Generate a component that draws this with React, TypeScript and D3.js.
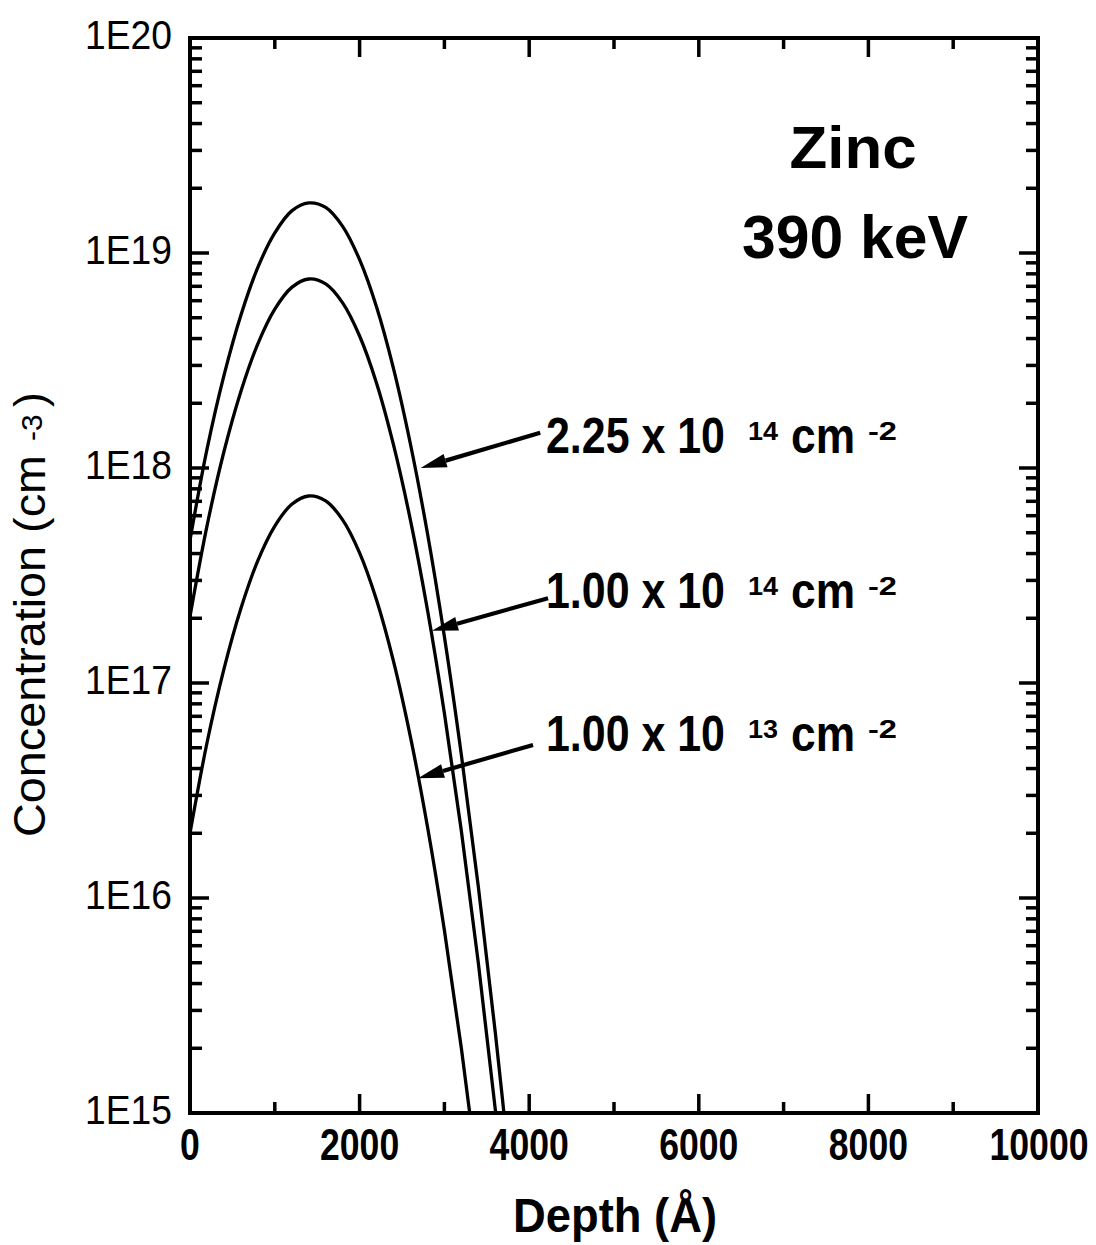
import React from "react";
import * as d3 from "d3";

const depths = [0, 200, 400, 600, 800, 1000, 1200, 1400, 1600, 1800, 2000, 2200, 2400, 2600, 2800, 3000, 3200, 3400, 3600, 3800];
const dose225e14 = [4.62e17, 1.22e18, 2.69e18, 5.14e18, 8.57e18, 1.24e19, 1.57e19, 1.71e19, 1.63e19, 1.33e19, 9.31e18, 5.61e18, 2.9e18, 1.29e18, 4.97e17, 1.64e17, 4.63e16, 1.13e16, 2.37e15, 4.26e14];
const dose100e14 = [2.04e17, 5.37e17, 1.19e18, 2.27e18, 3.78e18, 5.48e18, 6.92e18, 7.57e18, 7.18e18, 5.86e18, 4.11e18, 2.48e18, 1.28e18, 5.71e17, 2.19e17, 7.23e16, 2.05e16, 4.99e15, 1.04e15, 1.88e14];
const dose100e13 = [2.0e16, 5.26e16, 1.16e17, 2.22e17, 3.71e17, 5.37e17, 6.78e17, 7.41e17, 7.03e17, 5.74e17, 4.03e17, 2.43e17, 1.26e17, 5.6e16, 2.15e16, 7.08e15, 2.0e15, 4.89e14, 1.02e14, 1.84e13];

const xTickValues = [0, 2000, 4000, 6000, 8000, 10000];
const xMinorValues = [1000, 3000, 5000, 7000, 9000];
const yDecades = [1e15, 1e16, 1e17, 1e18, 1e19, 1e20];
const yTickLabels = ["1E15", "1E16", "1E17", "1E18", "1E19", "1E20"];

const doseLabels = [
  { main: "2.25 x 10", exp: "14", tailDepth: 4130, tailConc: 1.46e18, tipDepth: 2720, tipConc: 1.0e18 },
  { main: "1.00 x 10", exp: "14", tailDepth: 4222, tailConc: 2.48e17, tipDepth: 2854, tipConc: 1.75e17 },
  { main: "1.00 x 10", exp: "13", tailDepth: 4045, tailConc: 5.15e16, tipDepth: 2689, tipConc: 3.61e16 },
];

const W = 1096;
const H = 1245;
const L = 190, R = 1038, T = 38, B = 1113;
const FONT = "'Liberation Sans', Arial, Helvetica, sans-serif";

export default function App() {
  const x = d3.scaleLinear().domain([0, 10000]).range([L, R]);
  const y = d3.scaleLog().domain([1e15, 1e20]).range([B, T]);
  const line = d3
    .line<[number, number]>()
    .x((d) => x(d[0]))
    .y((d) => y(d[1]))
    .curve(d3.curveCatmullRom.alpha(0.5));

  const series = [dose225e14, dose100e14, dose100e13];

  const yMinor: number[] = [];
  for (let e = 15; e < 20; e++) {
    for (let m = 2; m <= 9; m++) yMinor.push(m * Math.pow(10, e));
  }

  const labelBaselines = [453, 608, 751];

  return (
    <svg
      width={W}
      height={H}
      style={{ position: "absolute", left: 0, top: 0, display: "block", background: "#fff" }}
      fontFamily={FONT}
    >
      <defs>
        <clipPath id="plotClip">
          <rect x={L} y={T} width={R - L} height={B - T} />
        </clipPath>
      </defs>
      <rect x={0} y={0} width={W} height={H} fill="#fff" />

      <g clipPath="url(#plotClip)">
        {series.map((s, i) => (
          <path
            key={i}
            d={line(depths.map((d, j) => [d, s[j]] as [number, number])) || ""}
            fill="none"
            stroke="#000"
            strokeWidth={3.3}
          />
        ))}
      </g>

      <g stroke="#000" strokeWidth={3.5}>
        {yDecades.map((v, i) => (
          <g key={"yd" + i}>
            <line x1={L} x2={L + 19} y1={y(v)} y2={y(v)} />
            <line x1={R} x2={R - 19} y1={y(v)} y2={y(v)} />
          </g>
        ))}
        {yMinor.map((v, i) => (
          <g key={"ym" + i}>
            <line x1={L} x2={L + 12} y1={y(v)} y2={y(v)} />
            <line x1={R} x2={R - 12} y1={y(v)} y2={y(v)} />
          </g>
        ))}
        {xTickValues.map((v, i) => (
          <g key={"xt" + i}>
            <line x1={x(v)} x2={x(v)} y1={B} y2={B - 19} />
            <line x1={x(v)} x2={x(v)} y1={T} y2={T + 19} />
          </g>
        ))}
        {xMinorValues.map((v, i) => (
          <g key={"xm" + i}>
            <line x1={x(v)} x2={x(v)} y1={B} y2={B - 11} />
            <line x1={x(v)} x2={x(v)} y1={T} y2={T + 11} />
          </g>
        ))}
      </g>

      <rect x={L} y={T} width={R - L} height={B - T} fill="none" stroke="#000" strokeWidth={4} />

      {yDecades.map((v, i) => (
        <text
          key={"yl" + i}
          x={172}
          y={y(v) + 11}
          textAnchor="end"
          fontSize={41}
          textLength={87}
          lengthAdjust="spacingAndGlyphs"
          fill="#000"
        >
          {yTickLabels[i]}
        </text>
      ))}

      {xTickValues.map((v, i) => {
        const s = String(v);
        return (
          <text
            key={"xl" + i}
            x={v === 10000 ? x(v) + 1 : x(v)}
            y={1160}
            textAnchor="middle"
            fontSize={44}
            fontWeight="bold"
            textLength={s.length * 19.8}
            lengthAdjust="spacingAndGlyphs"
            fill="#000"
          >
            {s}
          </text>
        );
      })}

      <text
        x={615}
        y={1232}
        textAnchor="middle"
        fontSize={48}
        fontWeight="bold"
        textLength={204}
        lengthAdjust="spacingAndGlyphs"
        fill="#000"
      >
        Depth (Å)
      </text>

      <g transform="translate(45,837) rotate(-90)">
        <text x={0} y={0} fontSize={44} fill="#000">
          <tspan textLength={382} lengthAdjust="spacingAndGlyphs">Concentration (cm</tspan>
          <tspan x={396} dy={-3} fontSize={30}>-3</tspan>
          <tspan x={430} dy={3} fontSize={44}>)</tspan>
        </text>
      </g>

      <text x={853} y={168} textAnchor="middle" fontSize={60} fontWeight="bold" textLength={127} lengthAdjust="spacingAndGlyphs" fill="#000">
        Zinc
      </text>
      <text x={855} y={258} textAnchor="middle" fontSize={62} fontWeight="bold" textLength={226} lengthAdjust="spacingAndGlyphs" fill="#000">
        390 keV
      </text>

      {doseLabels.map((d, i) => {
        const base = labelBaselines[i];
        const x1 = x(d.tailDepth), y1 = y(d.tailConc);
        const x2 = x(d.tipDepth), y2 = y(d.tipConc);
        const ang = Math.atan2(y2 - y1, x2 - x1);
        const hl = 26, hw = 7;
        const bx = x2 - hl * Math.cos(ang), by = y2 - hl * Math.sin(ang);
        const px = -Math.sin(ang), py = Math.cos(ang);
        const head = `M${x2},${y2} L${bx + hw * px},${by + hw * py} L${bx - hw * px},${by - hw * py} Z`;
        return (
          <g key={"dl" + i}>
            <line x1={x1} y1={y1} x2={bx} y2={by} stroke="#000" strokeWidth={4.2} />
            <path d={head} fill="#000" />
            <text x={546} y={base} fontSize={50} fontWeight="bold" fill="#000">
              <tspan textLength={179} lengthAdjust="spacingAndGlyphs">{d.main}</tspan>
              <tspan x={748} dy={-13} fontSize={26} textLength={30} lengthAdjust="spacingAndGlyphs">{d.exp}</tspan>
              <tspan x={791} dy={13} fontSize={50} textLength={64} lengthAdjust="spacingAndGlyphs">cm</tspan>
              <tspan x={868} dy={-13} fontSize={26} textLength={29} lengthAdjust="spacingAndGlyphs">-2</tspan>
            </text>
          </g>
        );
      })}
    </svg>
  );
}
